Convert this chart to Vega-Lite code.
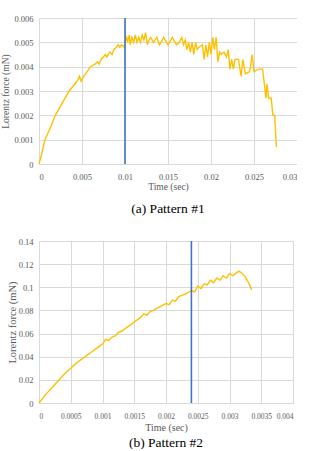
{
  "$schema": "https://vega.github.io/schema/vega-lite/v6.json",
  "padding": {"top": 14, "left": 0, "right": 0, "bottom": 0},
  "background": "white",
  "spacing": 21,
  "columns": 1,
  "align": "none",
  "datasets": {
    "p1": [
      {"t": 0, "f": 0}, {"t": 0.0003, "f": 0.0004}, {"t": 0.0007, "f": 0.001}, {"t": 0.0012, "f": 0.0014},
      {"t": 0.0019, "f": 0.002}, {"t": 0.0027, "f": 0.0025}, {"t": 0.0035, "f": 0.003}, {"t": 0.0042, "f": 0.0033},
      {"t": 0.0046, "f": 0.0035}, {"t": 0.0047, "f": 0.0036}, {"t": 0.0049, "f": 0.0034}, {"t": 0.0052, "f": 0.0036},
      {"t": 0.0056, "f": 0.0038}, {"t": 0.006, "f": 0.004}, {"t": 0.0065, "f": 0.0041}, {"t": 0.0068, "f": 0.0042},
      {"t": 0.007, "f": 0.0041}, {"t": 0.0072, "f": 0.0043},
      {"t": 0.0075, "f": 0.0044}, {"t": 0.0077, "f": 0.0045}, {"t": 0.0079, "f": 0.0044}, {"t": 0.0082, "f": 0.0046},
      {"t": 0.0085, "f": 0.0045}, {"t": 0.0087, "f": 0.0047}, {"t": 0.009, "f": 0.0048}, {"t": 0.0092, "f": 0.0049},
      {"t": 0.0094, "f": 0.0048}, {"t": 0.0096, "f": 0.0049}, {"t": 0.0099, "f": 0.0048}, {"t": 0.01, "f": 0.005},
      {"t": 0.0102, "f": 0.0052}, {"t": 0.0103, "f": 0.005}, {"t": 0.0105, "f": 0.0053}, {"t": 0.0106, "f": 0.0049},
      {"t": 0.0108, "f": 0.0052}, {"t": 0.011, "f": 0.005}, {"t": 0.0112, "f": 0.0053}, {"t": 0.0114, "f": 0.005},
      {"t": 0.0116, "f": 0.0052}, {"t": 0.0118, "f": 0.005}, {"t": 0.012, "f": 0.0053}, {"t": 0.0122, "f": 0.0051},
      {"t": 0.0124, "f": 0.0054}, {"t": 0.0126, "f": 0.0049}, {"t": 0.0128, "f": 0.0051}, {"t": 0.013, "f": 0.0052},
      {"t": 0.0133, "f": 0.005}, {"t": 0.0137, "f": 0.0052}, {"t": 0.014, "f": 0.0049}, {"t": 0.0145, "f": 0.0052},
      {"t": 0.015, "f": 0.0049}, {"t": 0.0155, "f": 0.0052}, {"t": 0.016, "f": 0.0049}, {"t": 0.0163, "f": 0.005},
      {"t": 0.0166, "f": 0.0052}, {"t": 0.0168, "f": 0.0049}, {"t": 0.017, "f": 0.0051}, {"t": 0.0172, "f": 0.0047},
      {"t": 0.0174, "f": 0.005}, {"t": 0.0176, "f": 0.0046}, {"t": 0.0178, "f": 0.005}, {"t": 0.018, "f": 0.0045},
      {"t": 0.0182, "f": 0.005}, {"t": 0.0184, "f": 0.0047}, {"t": 0.0186, "f": 0.0048}, {"t": 0.019, "f": 0.0049},
      {"t": 0.0192, "f": 0.0043}, {"t": 0.0194, "f": 0.0049}, {"t": 0.0196, "f": 0.0044}, {"t": 0.0198, "f": 0.005},
      {"t": 0.02, "f": 0.0045}, {"t": 0.0202, "f": 0.0052}, {"t": 0.0204, "f": 0.0047}, {"t": 0.0206, "f": 0.0052},
      {"t": 0.0208, "f": 0.0042}, {"t": 0.021, "f": 0.0046}, {"t": 0.0212, "f": 0.0045}, {"t": 0.0215, "f": 0.0046},
      {"t": 0.0218, "f": 0.0044}, {"t": 0.022, "f": 0.0047}, {"t": 0.0222, "f": 0.0039}, {"t": 0.0224, "f": 0.0043},
      {"t": 0.0226, "f": 0.0039}, {"t": 0.0228, "f": 0.0043}, {"t": 0.0232, "f": 0.0043}, {"t": 0.0235, "f": 0.0036},
      {"t": 0.0237, "f": 0.0043}, {"t": 0.024, "f": 0.0037}, {"t": 0.0245, "f": 0.0038}, {"t": 0.0248, "f": 0.0045},
      {"t": 0.025, "f": 0.0038}, {"t": 0.0255, "f": 0.0039}, {"t": 0.026, "f": 0.0039}, {"t": 0.0262, "f": 0.0033},
      {"t": 0.0264, "f": 0.0027}, {"t": 0.0265, "f": 0.0033}, {"t": 0.0267, "f": 0.0027}, {"t": 0.027, "f": 0.0027},
      {"t": 0.0272, "f": 0.002}, {"t": 0.0274, "f": 0.002}, {"t": 0.0276, "f": 0.0007}
    ],
    "p2": [
      {"t": 0, "f": 0}, {"t": 0.0001, "f": 0.007}, {"t": 0.0002, "f": 0.013}, {"t": 0.0003, "f": 0.019},
      {"t": 0.0004, "f": 0.025}, {"t": 0.0005, "f": 0.03}, {"t": 0.0006, "f": 0.035}, {"t": 0.0007, "f": 0.039},
      {"t": 0.0008, "f": 0.043}, {"t": 0.0009, "f": 0.047}, {"t": 0.001, "f": 0.051}, {"t": 0.00105, "f": 0.055},
      {"t": 0.0011, "f": 0.054}, {"t": 0.00115, "f": 0.057}, {"t": 0.0012, "f": 0.058}, {"t": 0.00125, "f": 0.061},
      {"t": 0.0013, "f": 0.062}, {"t": 0.0014, "f": 0.066}, {"t": 0.0015, "f": 0.07}, {"t": 0.0016, "f": 0.074},
      {"t": 0.00165, "f": 0.077}, {"t": 0.0017, "f": 0.076}, {"t": 0.00175, "f": 0.079}, {"t": 0.0018, "f": 0.08},
      {"t": 0.0019, "f": 0.083}, {"t": 0.002, "f": 0.086}, {"t": 0.00205, "f": 0.085}, {"t": 0.0021, "f": 0.089},
      {"t": 0.00215, "f": 0.088}, {"t": 0.0022, "f": 0.092}, {"t": 0.00225, "f": 0.093}, {"t": 0.0023, "f": 0.094},
      {"t": 0.0024, "f": 0.097}, {"t": 0.00245, "f": 0.096}, {"t": 0.0025, "f": 0.101}, {"t": 0.00255, "f": 0.099},
      {"t": 0.0026, "f": 0.103}, {"t": 0.00265, "f": 0.102}, {"t": 0.0027, "f": 0.106}, {"t": 0.00275, "f": 0.104},
      {"t": 0.0028, "f": 0.108}, {"t": 0.00285, "f": 0.106}, {"t": 0.0029, "f": 0.11}, {"t": 0.00295, "f": 0.108},
      {"t": 0.003, "f": 0.112}, {"t": 0.00305, "f": 0.11}, {"t": 0.0031, "f": 0.112}, {"t": 0.00315, "f": 0.114},
      {"t": 0.0032, "f": 0.112}, {"t": 0.00325, "f": 0.109}, {"t": 0.0033, "f": 0.104}, {"t": 0.00335, "f": 0.098}
    ],
    "m1": [{"t": 0.01}],
    "m2": [{"t": 0.0024}]
  },
  "concat": [
    {
      "width": 258,
      "height": 146,
      "title": {"text": "(a) Pattern #1", "orient": "bottom", "anchor": "middle", "fontSize": 13.5, "font": "Liberation Serif, Times New Roman, serif", "fontWeight": "normal", "color": "#000000", "offset": 11},
      "layer": [
        {
          "data": {"name": "p1"},
          "mark": {"type": "line", "color": "#ffc000", "strokeWidth": 1.4},
          "encoding": {
            "x": {"field": "t", "type": "quantitative", "scale": {"domain": [0, 0.03], "nice": false},
              "axis": {"title": "Time (sec)", "values": [0, 0.005, 0.01, 0.015, 0.02, 0.025, 0.03], "format": ".3~f", "labelPadding": 8, "titlePadding": 1}},
            "y": {"field": "f", "type": "quantitative", "scale": {"domain": [0, 0.006], "nice": false},
              "axis": {"title": "Lorentz force (mN)", "values": [0, 0.001, 0.002, 0.003, 0.004, 0.005, 0.006], "format": ".3~f", "titlePadding": 3}}
          }
        },
        {
          "data": {"name": "m1"},
          "mark": {"type": "rule", "color": "#4472c4", "strokeWidth": 1.6},
          "encoding": {"x": {"field": "t", "type": "quantitative"}}
        }
      ]
    },
    {
      "width": 254,
      "height": 162,
      "title": {"text": "(b) Pattern #2", "orient": "bottom", "anchor": "middle", "fontSize": 13.5, "font": "Liberation Serif, Times New Roman, serif", "fontWeight": "normal", "color": "#000000", "offset": 3},
      "layer": [
        {
          "data": {"name": "p2"},
          "mark": {"type": "line", "color": "#ffc000", "strokeWidth": 1.4},
          "encoding": {
            "x": {"field": "t", "type": "quantitative", "scale": {"domain": [0, 0.004], "nice": false},
              "axis": {"title": "Time (sec)", "titleFontSize": 10, "tickCount": 8, "format": ".4~f", "labelOverlap": false, "labelPadding": 9, "labelFontSize": 7.5}},
            "y": {"field": "f", "type": "quantitative", "scale": {"domain": [0, 0.14], "nice": false},
              "axis": {"title": "Lorentz force (mN)", "titleFontSize": 10.5, "values": [0, 0.02, 0.04, 0.06, 0.08, 0.1, 0.12, 0.14], "format": ".2~f", "titlePadding": 1}}
          }
        },
        {
          "data": {"name": "m2"},
          "mark": {"type": "rule", "color": "#4472c4", "strokeWidth": 1.6},
          "encoding": {"x": {"field": "t", "type": "quantitative"}}
        }
      ]
    }
  ],
  "config": {
    "view": {"stroke": null},
    "axis": {
      "labelFont": "Liberation Serif, Times New Roman, serif",
      "titleFont": "Liberation Serif, Times New Roman, serif",
      "labelFontSize": 8.5,
      "titleFontSize": 9.5,
      "titleFontWeight": "normal",
      "labelColor": "#595959",
      "titleColor": "#595959",
      "gridColor": "#d9d9d9",
      "gridWidth": 1,
      "ticks": false,
      "domain": false,
      "labelPadding": 6,
      "labelOverlap": false
    },
    "axisX": {"domain": true, "domainColor": "#d9d9d9", "titlePadding": 3}
  }
}
